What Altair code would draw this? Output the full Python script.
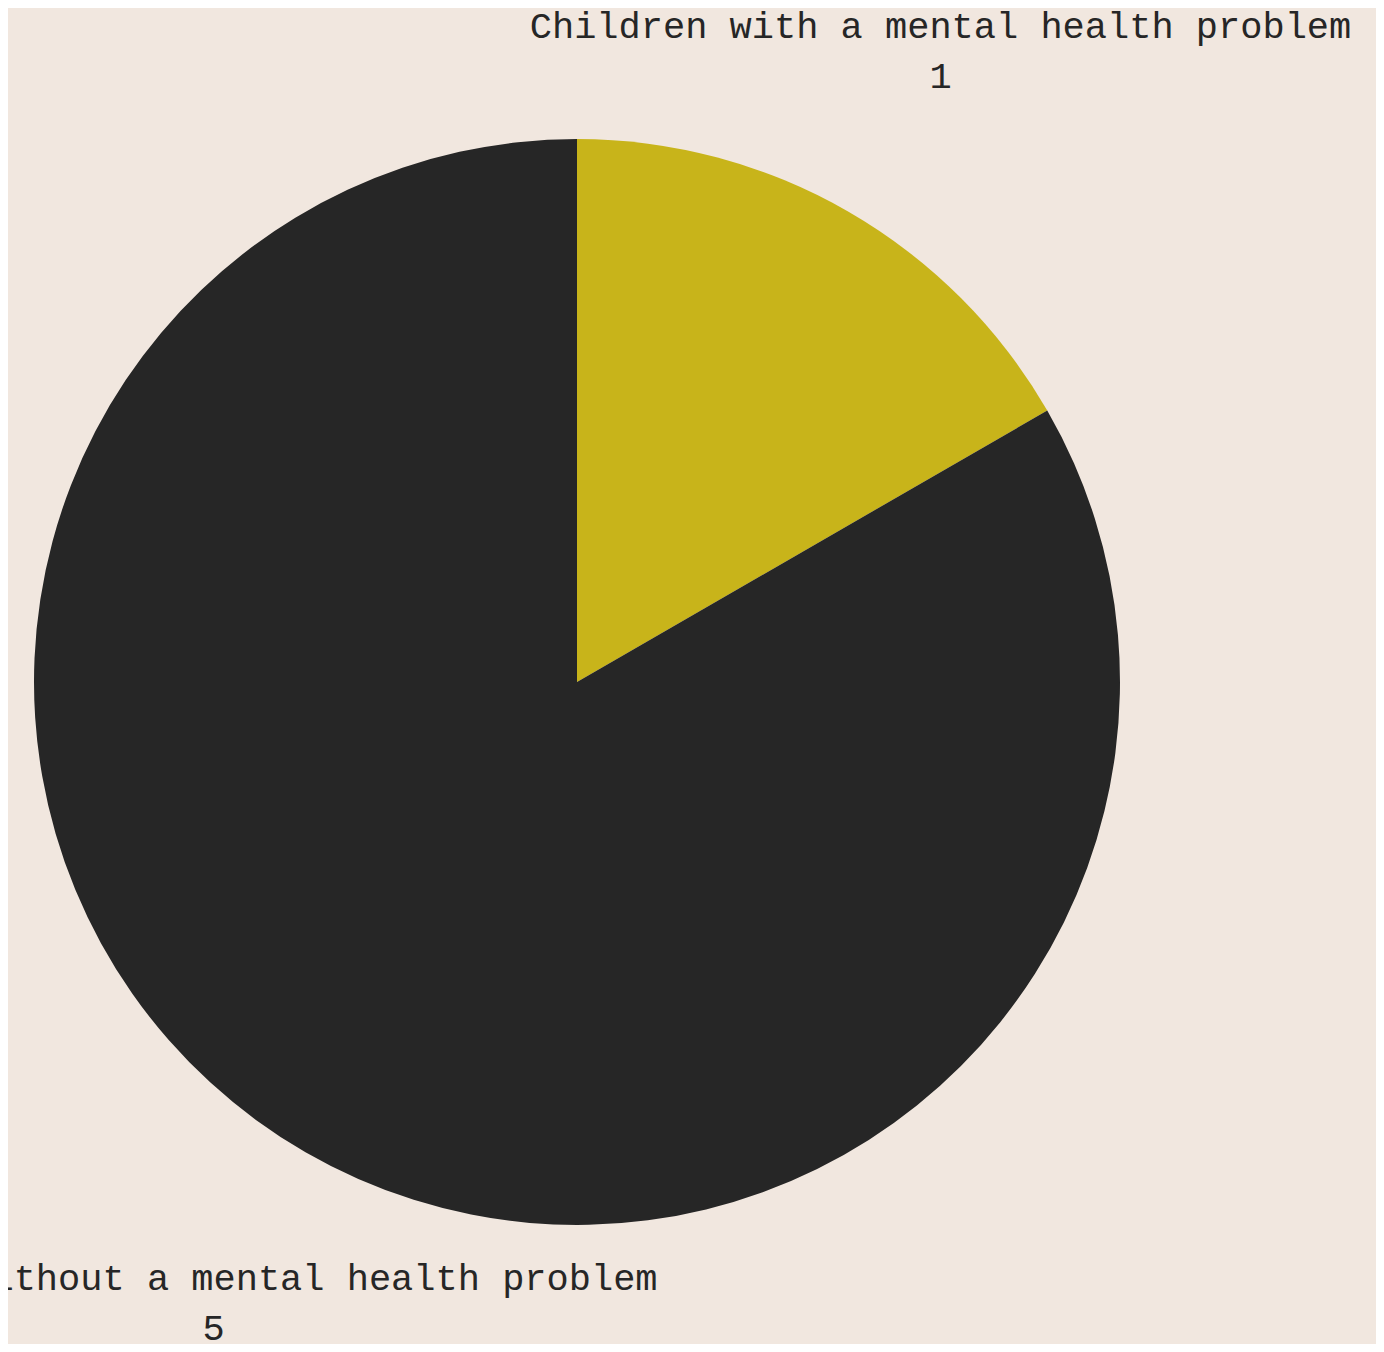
import altair as alt
import pandas as pd

categories = ["Children with a mental health problem", "Children without a mental health problem"]
values = [1, 5]
colors = ["#C8B41A", "#262626"]
order = [0, 1]

df = pd.DataFrame({
    "category": categories,
    "value": values,
    "order": order,
})
df["label"] = [f"{c}\n{v}" for c, v in zip(categories, values)]

cx, cy = 569, 674

base = alt.Chart(df).encode(
    theta=alt.Theta("value:Q", stack=True),
    order=alt.Order("order:Q"),
)

pie = base.mark_arc(radius=543, strokeWidth=0).encode(
    color=alt.Color("category:N", scale=alt.Scale(domain=categories, range=colors), legend=None),
    x=alt.value(cx),
    y=alt.value(cy),
)

text_style = dict(
    radius=727,
    font="Liberation Mono",
    fontSize=37,
    lineHeight=50,
    lineBreak="\n",
    align="center",
    baseline="middle",
    color="#262626",
)

text_top = base.mark_text(dy=-25, **text_style).encode(
    text="label:N",
    x=alt.value(cx),
    y=alt.value(cy),
    opacity=alt.condition(alt.datum.order == 0, alt.value(1), alt.value(0)),
)

text_bottom = base.mark_text(dy=-33, **text_style).encode(
    text="label:N",
    x=alt.value(cx),
    y=alt.value(cy),
    opacity=alt.condition(alt.datum.order == 1, alt.value(1), alt.value(0)),
)

chart = alt.layer(pie, text_top, text_bottom).properties(
    width=1368,
    height=1336,
    padding=0,
    background="#F1E7DF",
    autosize=alt.AutoSizeParams(type="none"),
).configure_view(stroke=None)

chart.save("out.html", embed_options={"renderer": "svg", "actions": False})
